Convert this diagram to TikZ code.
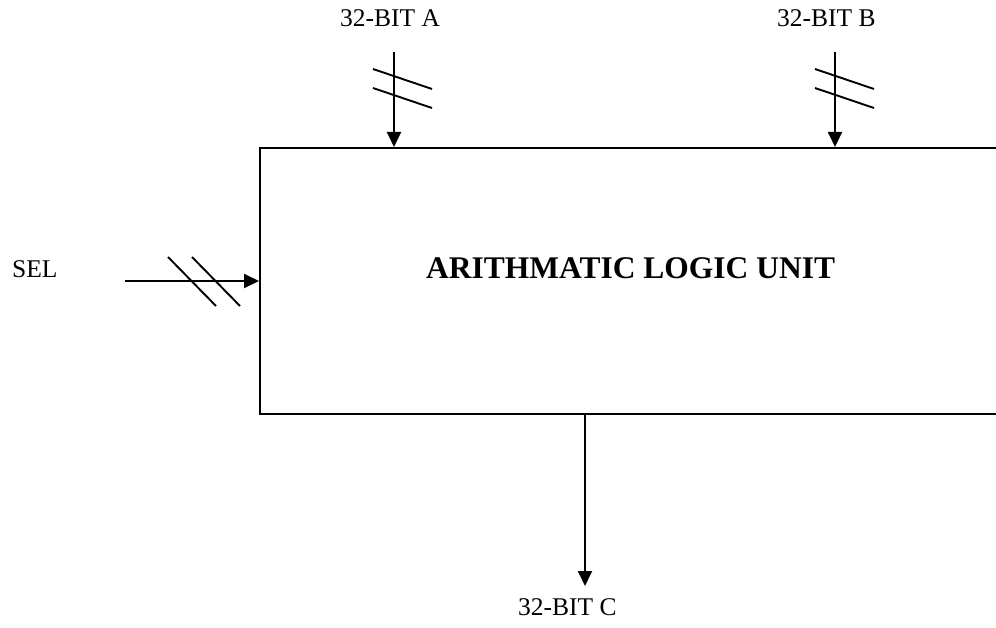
\documentclass[tikz,border=0pt]{standalone}
\usepackage{fontspec}
\setmainfont{Liberation Serif}
\usetikzlibrary{arrows.meta}
\begin{document}
\begin{tikzpicture}[x=1pt,y=-1pt,
  wire/.style={line width=1.9pt},
  arr/.style={wire,-{Triangle[length=15pt,width=14pt]}},
  slash/.style={line width=1.9pt},
  lbl/.style={inner sep=0pt,anchor=base west,font=\fontsize{25.5}{30}\selectfont},
  title/.style={inner sep=0pt,anchor=base west,font=\fontsize{31.5}{36}\selectfont\bfseries}]
\useasboundingbox (0,0) rectangle (996,628);
\clip (0,0) rectangle (996,628);
% box (right side lies beyond the page)
\node[draw,line width=2pt,minimum width=800pt,minimum height=266pt,anchor=north west,inner sep=0pt] (alu) at (259,147) {};
\node[title] (t) at (426,279) {ARITHMATIC LOGIC UNIT};
% labels
\node[lbl] (la) at (340,27) {32-BIT A};
\node[lbl] (lb) at (777,27) {32-BIT B};
\node[lbl] (lsel) at (12,278) {SEL};
\node[lbl] (lc) at (518,615) {32-BIT C};
% input A
\coordinate (a0) at (394,52);
\draw[arr] (a0) -- (a0 |- alu.north);
\coordinate (sa1) at (373,69); \coordinate (sa2) at (432,89);
\coordinate (sa3) at (373,88); \coordinate (sa4) at (432,108);
\draw[slash] (sa1) -- (sa2);
\draw[slash] (sa3) -- (sa4);
% input B
\coordinate (b0) at (835,52);
\draw[arr] (b0) -- (b0 |- alu.north);
\coordinate (sb1) at (815,69); \coordinate (sb2) at (874,89);
\coordinate (sb3) at (815,88); \coordinate (sb4) at (874,108);
\draw[slash] (sb1) -- (sb2);
\draw[slash] (sb3) -- (sb4);
% SEL
\coordinate (s0) at (125,281);
\draw[arr] (s0) -- (s0 -| alu.west);
\coordinate (ss1) at (168,257); \coordinate (ss2) at (216,306);
\coordinate (ss3) at (192,257); \coordinate (ss4) at (240,306);
\draw[slash] (ss1) -- (ss2);
\draw[slash] (ss3) -- (ss4);
% output C
\coordinate (c0) at (585,413);
\coordinate (c1) at (585,586);
\draw[arr] (c0) -- (c1);
\end{tikzpicture}
\end{document}
